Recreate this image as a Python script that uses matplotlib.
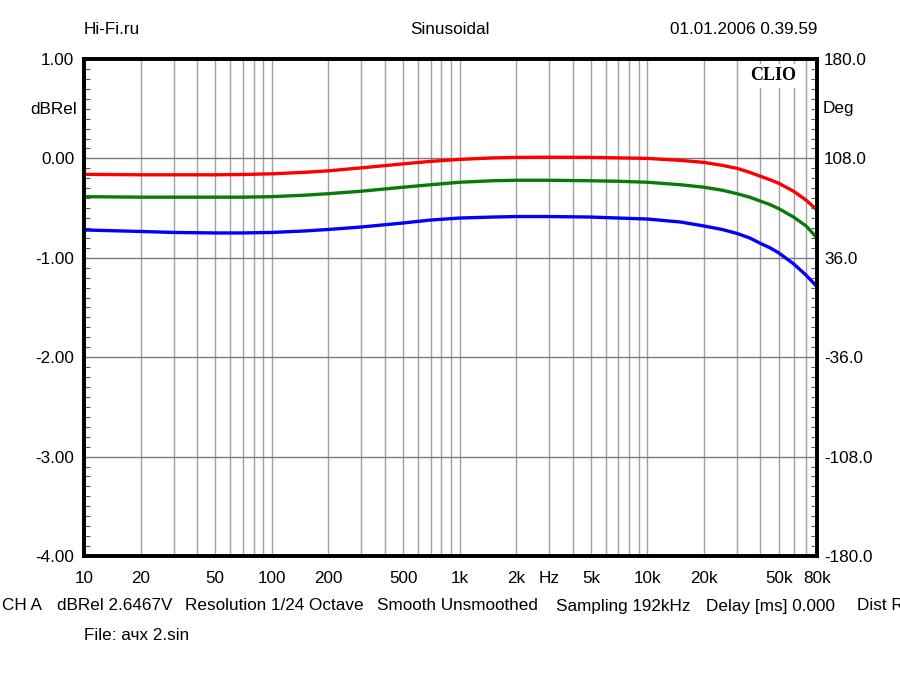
import matplotlib
matplotlib.use("Agg")
import matplotlib.pyplot as plt
from matplotlib.ticker import FixedLocator, NullFormatter, MultipleLocator

plt.rcParams['font.family'] = ['Liberation Sans', 'DejaVu Sans']

freq = [10, 20, 30, 50, 70, 100, 150, 200, 300, 500, 700, 1000, 1500, 2000, 3000,
        5000, 7000, 10000, 15000, 20000, 25000, 30000, 35000, 40000, 45000, 50000,
        60000, 70000, 80000]
red = [-0.16, -0.165, -0.165, -0.165, -0.162, -0.155, -0.14, -0.125, -0.095, -0.055,
       -0.03, -0.01, 0.005, 0.01, 0.012, 0.01, 0.005, 0.0, -0.02, -0.04, -0.07, -0.10,
       -0.14, -0.18, -0.215, -0.25, -0.33, -0.42, -0.52]
green = [-0.385, -0.39, -0.39, -0.39, -0.39, -0.385, -0.37, -0.355, -0.33, -0.29,
         -0.265, -0.24, -0.225, -0.22, -0.22, -0.225, -0.23, -0.24, -0.265, -0.29,
         -0.32, -0.355, -0.39, -0.43, -0.465, -0.505, -0.59, -0.68, -0.80]
blue = [-0.72, -0.735, -0.745, -0.75, -0.75, -0.745, -0.73, -0.715, -0.69, -0.65,
        -0.62, -0.60, -0.59, -0.585, -0.585, -0.59, -0.60, -0.61, -0.64, -0.68,
        -0.715, -0.755, -0.80, -0.855, -0.90, -0.95, -1.06, -1.175, -1.29]

xtick_pos = [10, 20, 50, 100, 200, 500, 1000, 2000, 3000, 5000, 10000, 20000, 50000, 80000]
xtick_lab = ['10', '20', '50', '100', '200', '500', '1k', '2k', 'Hz', '5k', '10k', '20k', '50k', '80k']
ytick_pos = [1, 0, -1, -2, -3, -4]
ytick_lab = ['1.00', '0.00', '-1.00', '-2.00', '-3.00', '-4.00']
deg_pos = [180, 108, 36, -36, -108, -180]
deg_lab = ['180.0', '108.0', '36.0', '-36.0', '-108.0', '-180.0']

fig = plt.figure(figsize=(9, 6.75), dpi=100)
W, H = 900, 675
L, R, T, B = 84, 817, 59, 556
ax = fig.add_axes([L / W, 1 - B / H, (R - L) / W, (B - T) / H])

ax.set_xscale('log')
ax.set_xlim(10, 80000)
ax.set_ylim(-4, 1)

# grid
vgrid = []
for dec in [10, 100, 1000, 10000]:
    for m in range(1, 10):
        v = dec * m
        if 10 < v < 80000:
            vgrid.append(v)
for v in vgrid:
    ax.axvline(v, color='#a0a0a0', lw=1.0, zorder=1)
for yv in [0, -1, -2, -3]:
    ax.axhline(yv, color='#7a7a7a', lw=1.0, zorder=1)

ax.plot(freq, red, color='#ff0000', lw=2.4, zorder=3)
ax.plot(freq, green, color='#0a7a0a', lw=2.4, zorder=3)
ax.plot(freq, blue, color='#0000ff', lw=2.4, zorder=3)

fs = 12.3

ax.xaxis.set_major_locator(FixedLocator(xtick_pos))
ax.set_xticklabels(xtick_lab)
ax.xaxis.set_minor_locator(FixedLocator([]))
ax.xaxis.set_minor_formatter(NullFormatter())
ax.tick_params(axis='x', which='both', length=0, pad=11, labelsize=fs)

ax.set_yticks(ytick_pos)
ax.set_yticklabels(ytick_lab)
ax.yaxis.set_minor_locator(MultipleLocator(0.1))
ax.tick_params(axis='y', which='major', length=0, pad=7, labelsize=fs)
ax.tick_params(axis='y', which='minor', direction='in', length=4, width=0.8, color='#555555')

ax2 = ax.twinx()
ax2.set_ylim(-180, 180)
ax2.set_yticks(deg_pos)
ax2.set_yticklabels(deg_lab)
ax2.yaxis.set_minor_locator(MultipleLocator(7.2))
ax2.tick_params(axis='y', which='major', length=0, pad=5, labelsize=fs)
ax2.tick_params(axis='y', which='minor', direction='in', length=4, width=0.8, color='#555555')

for a in (ax, ax2):
    for s in a.spines.values():
        s.set_linewidth(2.6)
        s.set_color('black')

fig.text(L / W, 1 - 30 / H, 'Hi-Fi.ru', ha='left', va='center', fontsize=fs)
fig.text(450 / W, 1 - 30 / H, 'Sinusoidal', ha='center', va='center', fontsize=fs)
fig.text(R / W, 1 - 30 / H, '01.01.2006 0.39.59', ha='right', va='center', fontsize=fs)
fig.text(77 / W, 1 - 109 / H, 'dBRel', ha='right', va='center', fontsize=fs)
fig.text(823 / W, 1 - 109 / H, 'Deg', ha='left', va='center', fontsize=fs)

ax.text(0.9715, 0.983, 'CLIO', transform=ax.transAxes, ha='right', va='top',
        fontsize=13, fontweight='bold', family=['Liberation Serif', 'DejaVu Serif'],
        zorder=5, bbox=dict(facecolor='white', edgecolor='none', pad=2.5))

bottom_items = [(2, 'CH A'), (57, 'dBRel 2.6467V'), (185, 'Resolution 1/24 Octave'),
                (377, 'Smooth Unsmoothed'), (556, 'Sampling 192kHz'),
                (706, 'Delay [ms] 0.000'), (857, 'Dist R')]
for x, t in bottom_items:
    fig.text(x / W, 1 - 606 / H, t, ha='left', va='center', fontsize=fs)
fig.text(84 / W, 1 - 636 / H, 'File: ачх 2.sin', ha='left', va='center', fontsize=fs)

fig.savefig('out.png', dpi=100, facecolor='white')
